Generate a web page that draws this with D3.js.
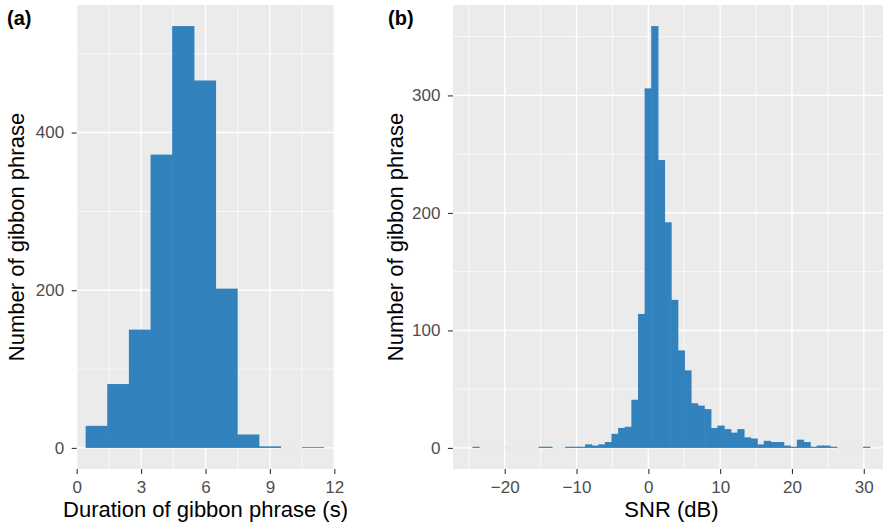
<!DOCTYPE html>
<html>
<head>
<meta charset="utf-8">
<script src="https://cdn.jsdelivr.net/npm/d3@7"></script>
<style>
  body { margin: 0; background: #fff; }
  text { font-family: "Liberation Sans", Arial, sans-serif; }
</style>
</head>
<body>
<svg id="chart" width="883" height="526"></svg>
<script>
// (a) duration of gibbon phrase, 11 bins
var durStart = 0.43, durWidth = 1.008;
var durCounts = [28, 81, 150, 372, 535, 466, 202, 17, 2, 0, 1];
var durTicks = [0, 3, 6, 9, 12];
var durMinor = [1.5, 4.5, 7.5, 10.5];
var durYTicks = [0, 200, 400];
var durYMinor = [100, 300, 500];

// (b) SNR, 60 bins
var snrStart = -24.45, snrWidth = 0.922;
var snrCounts = [1, 0, 0, 0, 0, 0, 0, 0, 0, 0,
                 1, 1, 0, 0, 1, 1, 1, 3, 2, 3,
                 5, 12, 17, 18, 41, 114, 306, 359, 245, 192,
                 126, 83, 66, 38, 36, 33, 17, 19, 16, 13,
                 16, 9, 8, 3, 6, 5, 5, 2, 1, 7,
                 5, 1, 2, 2, 1, 0, 0, 0, 0, 1];
var snrTicks = [-20, -10, 0, 10, 20, 30];
var snrMinor = [-25, -15, -5, 5, 15, 25];
var snrYTicks = [0, 100, 200, 300];
var snrYMinor = [50, 150, 250, 350];

var barColor = "#3182bd";
var svg = d3.select("#chart");
var panelTop = 5, panelBottom = 469;

function drawPanel(cfg) {
  var n = cfg.counts.length;
  var lo = cfg.start, hi = cfg.start + n * cfg.width;
  var xDom = cfg.xDomain || [lo - 0.05 * (hi - lo), hi + 0.05 * (hi - lo)];
  var x = d3.scaleLinear().domain(xDom).range([cfg.left, cfg.right]);
  var ymax = d3.max(cfg.counts);
  var y = d3.scaleLinear().domain([-0.05 * ymax, ymax * 1.05]).range([panelBottom, panelTop]);

  var g = svg.append("g");
  var clipId = "clip" + cfg.tag.replace(/\W/g, "");
  svg.append("clipPath").attr("id", clipId).append("rect")
    .attr("x", cfg.left).attr("y", panelTop)
    .attr("width", cfg.right - cfg.left).attr("height", panelBottom - panelTop);

  var p = g.append("g").attr("clip-path", "url(#" + clipId + ")");
  p.append("rect")
    .attr("x", cfg.left).attr("y", panelTop)
    .attr("width", cfg.right - cfg.left).attr("height", panelBottom - panelTop)
    .attr("fill", "#EBEBEB");

  // minor grid
  p.selectAll(".vminor").data(cfg.xMinor).enter().append("line")
    .attr("x1", d => x(d)).attr("x2", d => x(d))
    .attr("y1", panelTop).attr("y2", panelBottom)
    .attr("stroke", "#fff").attr("stroke-width", 0.7);
  p.selectAll(".hminor").data(cfg.yMinor).enter().append("line")
    .attr("y1", d => y(d)).attr("y2", d => y(d))
    .attr("x1", cfg.left).attr("x2", cfg.right)
    .attr("stroke", "#fff").attr("stroke-width", 0.7);
  // major grid
  p.selectAll(".vmajor").data(cfg.xTicks).enter().append("line")
    .attr("x1", d => x(d)).attr("x2", d => x(d))
    .attr("y1", panelTop).attr("y2", panelBottom)
    .attr("stroke", "#fff").attr("stroke-width", 1.4);
  p.selectAll(".hmajor").data(cfg.yTicks).enter().append("line")
    .attr("y1", d => y(d)).attr("y2", d => y(d))
    .attr("x1", cfg.left).attr("x2", cfg.right)
    .attr("stroke", "#fff").attr("stroke-width", 1.4);

  // bars (slight overlap hides anti-aliasing seams)
  p.selectAll(".bar").data(cfg.counts).enter().append("rect")
    .attr("x", (d, i) => x(cfg.start + i * cfg.width) - 0.3)
    .attr("width", (d, i) => x(cfg.start + (i + 1) * cfg.width) - x(cfg.start + i * cfg.width) + 0.6)
    .attr("y", d => d > 0 ? y(d) : y(0) - 0.5)
    .attr("height", d => d > 0 ? y(0) - y(d) : 1)
    .attr("fill", barColor)
    .attr("fill-opacity", d => d > 0 ? 1 : 0.2);

  // axes
  var xAxis = g.append("g").attr("transform", "translate(0," + panelBottom + ")")
    .call(d3.axisBottom(x).tickValues(cfg.xTicks).tickSize(5).tickSizeOuter(0).tickPadding(7));
  var yAxis = g.append("g").attr("transform", "translate(" + cfg.left + ",0)")
    .call(d3.axisLeft(y).tickValues(cfg.yTicks).tickSize(5).tickSizeOuter(0).tickPadding(7.5));
  [xAxis, yAxis].forEach(function (a) {
    a.select(".domain").remove();
    a.selectAll(".tick line").attr("stroke", "#333333").attr("stroke-width", 1.1);
    a.selectAll(".tick text").attr("fill", "#4D4D4D").attr("font-size", 17)
      .attr("font-family", "Liberation Sans, Arial, sans-serif");
  });

  // titles
  g.append("text")
    .attr("x", (x.range()[0] + x.range()[1]) / 2).attr("y", 517)
    .attr("text-anchor", "middle").attr("font-size", 22).attr("fill", "#000")
    .text(cfg.xTitle);
  g.append("text")
    .attr("transform", "translate(" + cfg.yTitleX + "," + (panelTop + panelBottom) / 2 + ") rotate(-90)")
    .attr("text-anchor", "middle").attr("font-size", 22).attr("fill", "#000")
    .text(cfg.yTitle);
  g.append("text")
    .attr("x", cfg.tagX).attr("y", 25)
    .attr("font-size", 20).attr("font-weight", "bold").attr("fill", "#000")
    .text(cfg.tag);
}

drawPanel({
  left: 76.7, right: 334.3, xDomain: [0, 12],
  start: durStart, width: durWidth, counts: durCounts,
  xTicks: durTicks, xMinor: durMinor, yTicks: durYTicks, yMinor: durYMinor,
  xTitle: "Duration of gibbon phrase (s)", yTitle: "Number of gibbon phrase",
  yTitleX: 24, tag: "(a)", tagX: 7
});

drawPanel({
  left: 452.9, right: 889.9,
  start: snrStart, width: snrWidth, counts: snrCounts,
  xTicks: snrTicks, xMinor: snrMinor, yTicks: snrYTicks, yMinor: snrYMinor,
  xTitle: "SNR (dB)", yTitle: "Number of gibbon phrase",
  yTitleX: 403, tag: "(b)", tagX: 388
});
</script>
</body>
</html>
